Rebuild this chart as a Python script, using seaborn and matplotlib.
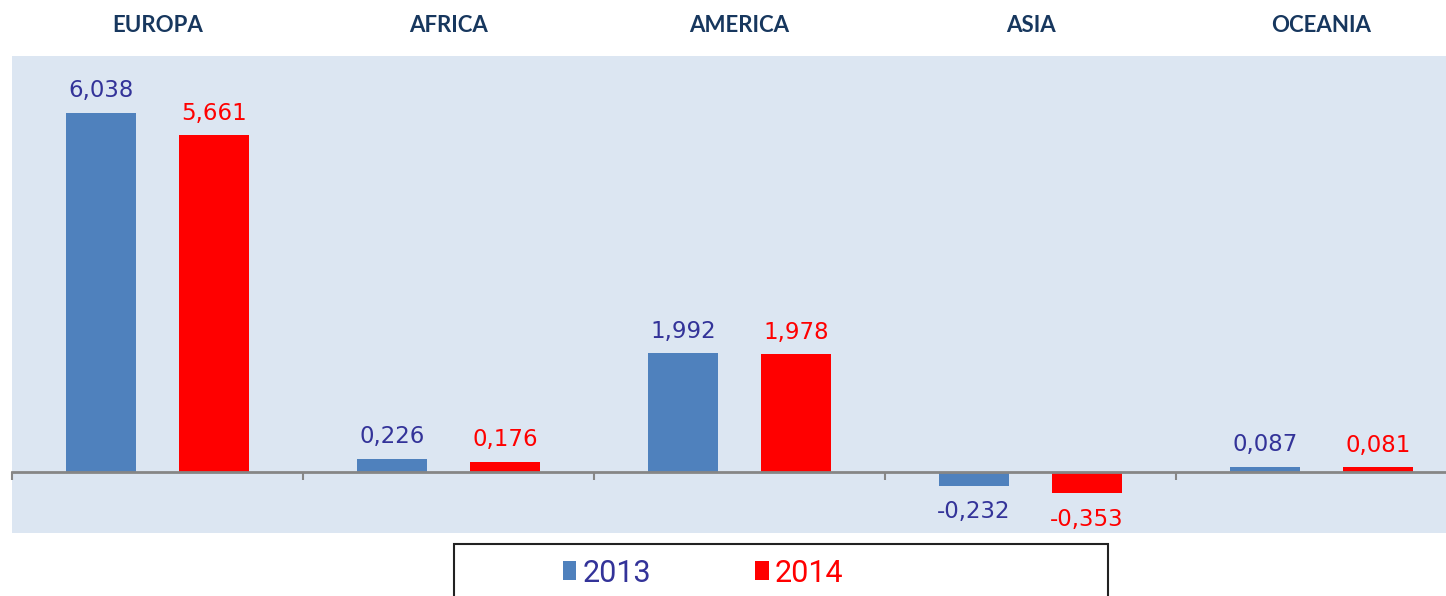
import pandas as pd
import matplotlib.pyplot as plt
from matplotlib.patches import Patch, Rectangle
from matplotlib.transforms import blended_transform_factory
import seaborn as sns

continents = ['EUROPA', 'AFRICA', 'AMERICA', 'ASIA', 'OCEANIA']
years = ['2013', '2014']
values_2013 = [6.038, 0.226, 1.992, -0.232, 0.087]
values_2014 = [5.661, 0.176, 1.978, -0.353, 0.081]

bar_colors = {'2013': '#4F81BD', '2014': '#FF0000'}
text_colors = {'2013': '#333399', '2014': '#FF0000'}

df = pd.DataFrame({
    'continent': continents * 2,
    'year': ['2013'] * 5 + ['2014'] * 5,
    'value': values_2013 + values_2014,
})

sns.set_theme(style='white')
plt.rcParams['font.family'] = ['DejaVu Sans']

W, H = 1446, 596
fig = plt.figure(figsize=(W / 100, H / 100), dpi=100)
fig.patch.set_facecolor('white')
ax = fig.add_axes([12 / W, 63 / H, 1455 / W, 477 / H])
ax.set_facecolor('#DCE6F2')

sns.barplot(data=df, x='continent', y='value', hue='year', order=continents,
            hue_order=years, palette=bar_colors, width=0.776, gap=0.38,
            saturation=1, ax=ax, legend=False, edgecolor='none')

ax.set_xlim(-0.5, 4.5)
ax.set_ylim(-1.025, 6.99)
for s in ['top', 'right', 'left']:
    ax.spines[s].set_visible(False)
ax.spines['bottom'].set_position(('data', 0))
ax.spines['bottom'].set_color('#868686')
ax.spines['bottom'].set_linewidth(2)
ax.set_yticks([])
ax.set_xticks([-0.5, 0.5, 1.5, 2.5, 3.5])
ax.set_xticklabels([])
ax.tick_params(axis='x', direction='out', length=6, width=1.5, color='#868686', bottom=True)
ax.set_xlabel('')
ax.set_ylabel('')

# value labels
for container, yr in zip(ax.containers, years):
    for bar in container:
        v = bar.get_height()
        x = bar.get_x() + bar.get_width() / 2
        off = 22 if v >= 0 else -26
        ax.annotate(f"{v:.3f}".replace('.', ','), (x, v), xytext=(0, off * 0.72),
                    textcoords='offset points', ha='center', va='center',
                    fontsize=16.5, color=text_colors[yr])

# category titles on top
trans = blended_transform_factory(ax.transData, fig.transFigure)
for i, c in enumerate(continents):
    ax.text(i, 1 - 26 / H, c, transform=trans, ha='center', va='center',
            fontsize=16, fontweight='bold', color='#17375E',
            family=['Lato', 'DejaVu Sans'])

# legend box
fig.patches.append(Rectangle((454 / W, -0.05), 654 / W, 0.05 + (H - 544) / H,
                             transform=fig.transFigure, facecolor='white',
                             edgecolor='#222222', linewidth=1.5))
handles = [Patch(facecolor=bar_colors[y], edgecolor='none') for y in years]
leg = fig.legend(handles, years, loc='center', bbox_to_anchor=(703 / W, 1 - 573 / H),
                 ncol=2, frameon=False, handlelength=0.45, handleheight=0.6,
                 handletextpad=0.2, columnspacing=3.4,
                 prop={'family': ['Roboto', 'DejaVu Sans'], 'size': 22})
for t, y in zip(leg.get_texts(), years):
    t.set_color(text_colors[y])

fig.savefig('out.png', dpi=100, facecolor='white')
